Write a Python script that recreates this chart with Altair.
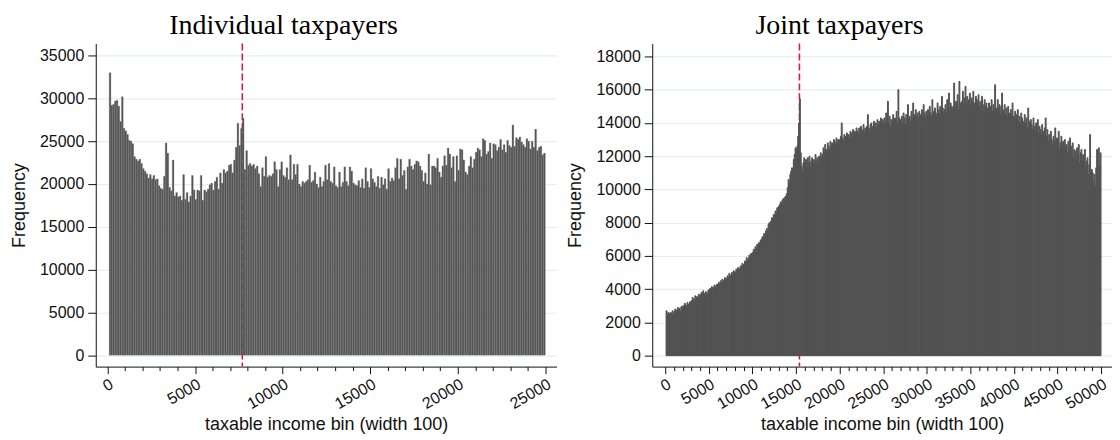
import altair as alt
import pandas as pd

# ---------------- data ----------------
ind_title = "Individual taxpayers"
joint_title = "Joint taxpayers"
x_title = "taxable income bin (width 100)"
y_title = "Frequency"
bin_width = 100

# Individual taxpayers: bins 100 .. 24900 (lower edges)
ind_bins = list(range(100, 25000, 100))
ind_freq = [
    33000, 29200, 29300, 29700, 29800, 29100, 27300, 30200, 26500, 26200,
    25800, 25100, 25000, 24700, 23200, 22900, 22700, 22900, 22400, 21800,
    21500, 21200, 20700, 21100, 20600, 21000, 20500, 20600, 19800, 19500,
    19400, 20900, 24800, 23600, 19600, 19200, 22800, 18600, 19000, 18500,
    18600, 18100, 21100, 18200, 19000, 17900, 18600, 21000, 19300, 18200,
    19300, 19200, 21000, 18100, 19300, 19100, 19400, 19900, 20100, 19300,
    20300, 20800, 19400, 21300, 20100, 21700, 21300, 21500, 22200, 22300,
    21300, 22800, 24300, 27100, 24500, 26500, 27700, 21700, 23900, 22200,
    22400, 22100, 22300, 21800, 22100, 21200, 19700, 21900, 20900, 23200,
    20800, 21000, 20900, 21200, 22600, 21700, 19700, 21700, 22600, 21000,
    20800, 21900, 20500, 23400, 20500, 22300, 21100, 22300, 20000, 19700,
    20300, 20100, 20300, 20500, 22200, 20200, 20400, 21400, 20000, 19600,
    20800, 19700, 20300, 22200, 20500, 22400, 20300, 20100, 22000, 19800,
    19600, 21400, 19700, 20200, 22000, 20300, 19800, 22000, 21500, 20100,
    19900, 19800, 20400, 19600, 20600, 19500, 21900, 20300, 19600, 21800,
    20600, 20200, 19700, 20900, 19500, 20800, 19900, 20600, 19400, 21800,
    20300, 20700, 20400, 21900, 23000, 20600, 22900, 21000, 21600, 19400,
    22000, 22900, 22100, 21700, 22300, 22700, 22600, 22100, 21600, 20300,
    21300, 20000, 23500, 19900, 22100, 22100, 21900, 23000, 21400, 20800,
    22100, 23300, 22200, 24200, 23500, 21900, 23200, 20300, 23300, 21600,
    24100, 24000, 22800, 21400, 21100, 22100, 23200, 21900, 22900, 23700,
    24200, 24000, 23200, 25300, 25100, 23500, 23800, 24800, 23000, 24700,
    24600, 23900, 24300, 25200, 24000, 24600, 23700, 25100, 24500, 24300,
    26900, 24400, 25400, 25200, 25500, 24900, 24600, 24300, 25300, 25000,
    24100, 25000, 24300, 26400, 23900, 24300, 24400, 23400, 23600,
]

# Joint taxpayers: bins 100 .. 49900 (lower edges)
joint_bins = list(range(100, 50000, 100))
joint_freq = [
    2700, 2450, 2600, 2550, 2350, 2600, 2500, 2700, 2450,
    2650, 2800, 2550, 2750, 2900, 2700, 2850, 2650, 2950, 2800,
    3000, 2900, 3150, 3050, 2950, 3200, 3100, 3000, 3250, 3150,
    3300, 3500, 3400, 3350, 3600, 3450, 3550, 3400, 3700, 3600,
    3650, 3800, 3700, 3900, 3750, 3650, 3850, 3800, 3700, 3950,
    3900, 4050, 3950, 4150, 4000, 4100, 4250, 4050, 4200, 4300,
    4250, 4400, 4300, 4500, 4350, 4600, 4450, 4550, 4700, 4500,
    4650, 4800, 4700, 4950, 4850, 4750, 5000, 4900, 5100, 5050,
    5000, 5200, 5150, 5300, 5100, 5250, 5400, 5350, 5550, 5450,
    5500, 5700, 5600, 5900, 5750, 5850, 6050, 5950, 6150, 6100,
    6200, 6400, 6300, 6550, 6450, 6700, 6600, 6800, 6750, 6950,
    7000, 7150, 7100, 7350, 7250, 7500, 7650, 7550, 7900, 8000,
    7950, 8100, 8300, 8250, 8500, 8450, 8700, 8650, 8900, 8850,
    9000, 9100, 9250, 9200, 9350, 9450, 9400, 9550, 9600, 9750,
    10100, 10600, 10450, 10900, 11100, 11300, 11200, 11800, 12100, 12500,
    12400, 12600, 13200, 14000, 15450, 12200, 11400, 11100, 11600, 11900,
    11500, 11800, 11300, 11900, 11600, 12000, 11400, 11700, 11900, 11500,
    11800, 11600, 12100, 11700, 11900, 11500, 12000, 11800, 12200, 11900,
    12100, 12500, 12300, 12700, 12400, 12200, 12800, 12600, 12400, 12900,
    12600, 12800, 12700, 13000, 12900, 12700, 13100, 12800, 13000, 12900,
    13000, 13200, 14000, 13100, 12900, 13300, 13200, 13100, 13400, 13200,
    13300, 13100, 13500, 13400, 13200, 13600, 13300, 13500, 13400, 13700,
    13500, 13400, 13700, 13300, 13800, 13600, 13500, 13900, 13400, 13700,
    13600, 13800, 14500, 13700, 13500, 13900, 14000, 13700, 13800, 14100,
    13800, 14000, 13700, 14200, 13900, 14100, 13800, 14300, 14000, 14200,
    14000, 14300, 13900, 14600, 14100, 15300, 14000, 14400, 13800, 14200,
    14100, 14500, 13600, 14300, 14200, 14700, 14000, 16000, 14300, 14100,
    14200, 14400, 14000, 14600, 14300, 13900, 14500, 14200, 15100, 14300,
    14400, 14100, 14700, 14300, 15200, 14500, 14200, 14800, 14400, 14600,
    14300, 14700, 14500, 13900, 14800, 14400, 15100, 14600, 14300, 14700,
    14500, 14800, 14300, 15000, 14600, 14400, 15400, 14700, 14500, 14900,
    14600, 14400, 15200, 14800, 14500, 15000, 14700, 15600, 14900, 14600,
    14800, 15100, 14600, 15400, 14900, 15800, 14700, 15200, 15000, 14800,
    15000, 16400, 14900, 15300, 15100, 15700, 14800, 16500, 15200, 15000,
    15300, 15900, 15100, 15500, 16200, 15200, 15600, 15000, 15400, 15800,
    15100, 15500, 15300, 15900, 15200, 14900, 15600, 15400, 15200, 15700,
    15000, 15300, 14800, 15600, 15100, 14700, 15400, 15000, 15200, 14900,
    14800, 15200, 14600, 15000, 15400, 14700, 15100, 14800, 16300, 14900,
    14700, 15400, 14900, 15100, 14500, 15000, 15800, 14800, 14600, 15100,
    14500, 14900, 14400, 15000, 14600, 14200, 14800, 14500, 15200, 14400,
    14300, 14700, 14200, 14500, 14800, 14100, 14400, 14000, 14600, 14300,
    14100, 13800, 14500, 14000, 14300, 13700, 14900, 14100, 13800, 14200,
    13900, 13600, 14300, 13800, 13500, 14000, 13700, 14200, 13400, 13800,
    13600, 13300, 13900, 13500, 13000, 13700, 14300, 13200, 13600, 12900,
    13300, 12800, 13500, 13000, 12700, 13200, 12900, 13700, 12600, 13100,
    12900, 13500, 12400, 12800, 13200, 12500, 12900, 12300, 13000, 12600,
    12700, 12200, 12900, 12500, 13100, 12100, 12600, 12800, 11900, 12400,
    12300, 11800, 12500, 12000, 12700, 11600, 12200, 12400, 11700, 12100,
    11800, 12400, 11300, 11700, 11900, 10900, 11500, 13300, 11000, 11200,
    11000, 10500, 10900, 10200, 11300, 12400, 10800, 12500, 11400, 12200,
]

ind_threshold = 7700
joint_threshold = 15400

ind_yticks = list(range(0, 35001, 5000))
joint_yticks = list(range(0, 18001, 2000))
ind_xticks = list(range(0, 25001, 1000))
joint_xticks = list(range(0, 50001, 1000))

LABEL_FONT = "Liberation Sans"
TITLE_FONT = "Liberation Serif"
BAR_COLOR = "#525252"
LINE_COLOR = "#e0113c"
GRID_COLOR = "#e6eef1"


def panel(bins, freq, title, threshold, xticks, yticks, xdom, ydom, w, h, stroke_color, stroke_width):
    df = pd.DataFrame({
        "bin": bins,
        "bin_end": [b + bin_width for b in bins],
        "freq": freq,
    })
    xscale = alt.Scale(domain=xdom, nice=False, zero=False)
    yscale = alt.Scale(domain=ydom, nice=False, zero=False)
    xaxis = alt.Axis(
        values=xticks,
        labelExpr="datum.value % 5000 === 0 ? '' + datum.value : ''",
        labelAngle=330,
        labelAlign="right",
        labelBaseline="top",
        labelOverlap=False,
        labelFlush=False,
        labelFont=LABEL_FONT,
        labelFontSize=16,
        labelColor="#111111",
        labelPadding=2,
        tickSize={"condition": {"test": "datum.value % 5000 === 0", "value": 7}, "value": 4},
        tickColor="#111111",
        domainColor="#111111",
        grid=False,
        title=x_title,
        titleFont=LABEL_FONT,
        titleFontSize=18,
        titleFontWeight="normal",
        titleColor="#111111",
        titlePadding=4,
    )
    yaxis = alt.Axis(
        values=yticks,
        format="d",
        labelFont=LABEL_FONT,
        labelFontSize=16,
        labelColor="#111111",
        labelPadding=4,
        tickSize=8,
        tickColor="#111111",
        domainColor="#111111",
        grid=True,
        gridColor=GRID_COLOR,
        gridWidth=1.2,
        title=y_title,
        titleFont=LABEL_FONT,
        titleFontSize=18,
        titleFontWeight="normal",
        titleColor="#111111",
        titlePadding=11,
    )
    rule = alt.Chart(pd.DataFrame({"t": [threshold]})).mark_rule(
        color=LINE_COLOR, strokeDash=[7, 3], strokeWidth=1.5
    ).encode(
        x=alt.X("t:Q", scale=xscale, axis=xaxis),
        y=alt.value(0),
        y2=alt.value(h),
    )
    bars = alt.Chart(df).mark_rect(
        color=BAR_COLOR, stroke=stroke_color, strokeWidth=stroke_width
    ).encode(
        x=alt.X("bin:Q", scale=xscale, axis=xaxis),
        x2="bin_end:Q",
        y=alt.Y("freq:Q", scale=yscale, axis=yaxis),
        y2=alt.datum(0),
    )
    return alt.layer(rule, bars).properties(
        width=w,
        height=h,
        title=alt.Title(
            title,
            font=TITLE_FONT,
            fontSize=28,
            fontWeight="normal",
            color="#000000",
            anchor="middle",
            frame="bounds",
            offset=3,
        ),
    )


left = panel(ind_bins, ind_freq, ind_title, ind_threshold, ind_xticks, ind_yticks,
             [-666, 25640], [-1340, 36420], 462, 324, "#7a7a7a", 0.3)
right = panel(joint_bins, joint_freq, joint_title, joint_threshold, joint_xticks, joint_yticks,
              [-1490, 51260], [-660, 18780], 461, 324, BAR_COLOR, 1.0)

chart = alt.hconcat(left, right, spacing=10).properties(
    padding={"top": 3, "left": 2, "right": 0, "bottom": 0}
).configure_view(stroke=None)

chart.save("out.html", embed_options={"renderer": "svg", "actions": False})
